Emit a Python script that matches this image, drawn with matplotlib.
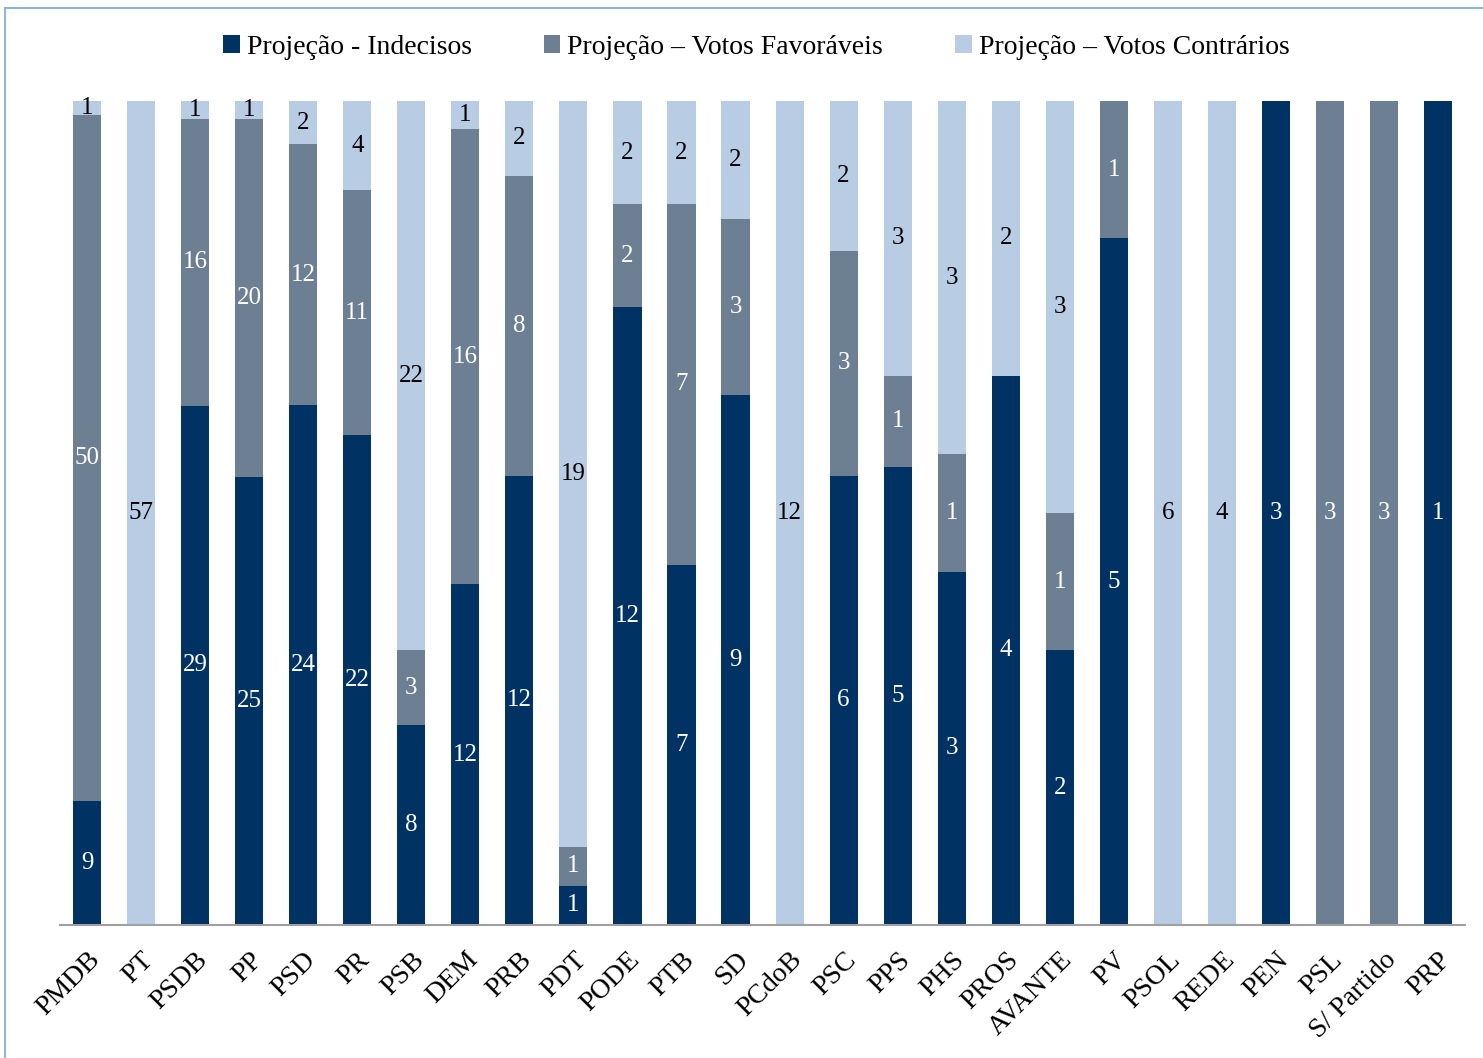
import matplotlib
matplotlib.use("Agg")
import matplotlib.pyplot as plt
from matplotlib.patches import Rectangle
import numpy as np

parties = ["PMDB", "PT", "PSDB", "PP", "PSD", "PR", "PSB", "DEM", "PRB", "PDT", "PODE",
           "PTB", "SD", "PCdoB", "PSC", "PPS", "PHS", "PROS", "AVANTE", "PV", "PSOL",
           "REDE", "PEN", "PSL", "S/ Partido", "PRP"]
indecisos = [9, 0, 29, 25, 24, 22, 8, 12, 12, 1, 12, 7, 9, 0, 6, 5, 3, 4, 2, 5, 0, 0, 3, 0, 0, 1]
favoraveis = [50, 0, 16, 20, 12, 11, 3, 16, 8, 1, 2, 7, 3, 0, 3, 1, 1, 0, 1, 1, 0, 0, 0, 3, 3, 0]
contrarios = [1, 57, 1, 1, 2, 4, 22, 1, 2, 19, 2, 2, 2, 12, 2, 3, 3, 2, 3, 0, 6, 4, 0, 0, 0, 0]
series_names = ["Projeção - Indecisos", "Projeção – Votos Favoráveis", "Projeção – Votos Contrários"]
colors = ["#003363", "#6d7f93", "#b8cce4"]
text_colors = ["white", "white", "black"]

plt.rcParams['font.family'] = ['Liberation Serif', 'DejaVu Serif']

fig = plt.figure(figsize=(14.83, 10.58), dpi=100)
ax = fig.add_axes([0.0405, 0.1257, 0.9474, 0.7788])

data = np.array([indecisos, favoraveis, contrarios], dtype=float)
totals = data.sum(axis=0)
pct = data / totals
x = np.arange(len(parties))
bottom = np.zeros(len(parties))
for i in range(3):
    ax.bar(x, pct[i], 0.52, bottom=bottom, color=colors[i], label=series_names[i], zorder=2)
    for j in range(len(parties)):
        if data[i, j] > 0:
            ax.text(x[j], bottom[j] + pct[i, j] / 2, str(int(data[i, j])), ha='center', va='center',
                    color=text_colors[i], fontsize=18, zorder=3)
    bottom += pct[i]

ax.set_xlim(-0.5, len(parties) - 0.5)
ax.set_ylim(0, 1)
ax.set_yticks([])
for s in ["top", "right", "left"]:
    ax.spines[s].set_visible(False)
ax.spines["bottom"].set_color("#a0a0a0")
ax.spines["bottom"].set_linewidth(1.5)
ax.set_xticks(x)
ax.set_xticklabels(parties, rotation=45, ha='right', rotation_mode='anchor', fontsize=20)
ax.tick_params(axis='x', length=0, pad=16)

leg = fig.legend(loc='center', bbox_to_anchor=(0.51, 0.955), ncol=3, frameon=False, fontsize=20,
                 handlelength=0.6, handleheight=0.6, handletextpad=0.25, columnspacing=2.6)

fig.patches.append(Rectangle((0.0035, -0.01), 1.0, 1.002, transform=fig.transFigure,
                             fill=False, edgecolor="#8fb4de", linewidth=1.5))

fig.savefig("out.png", dpi=100)
